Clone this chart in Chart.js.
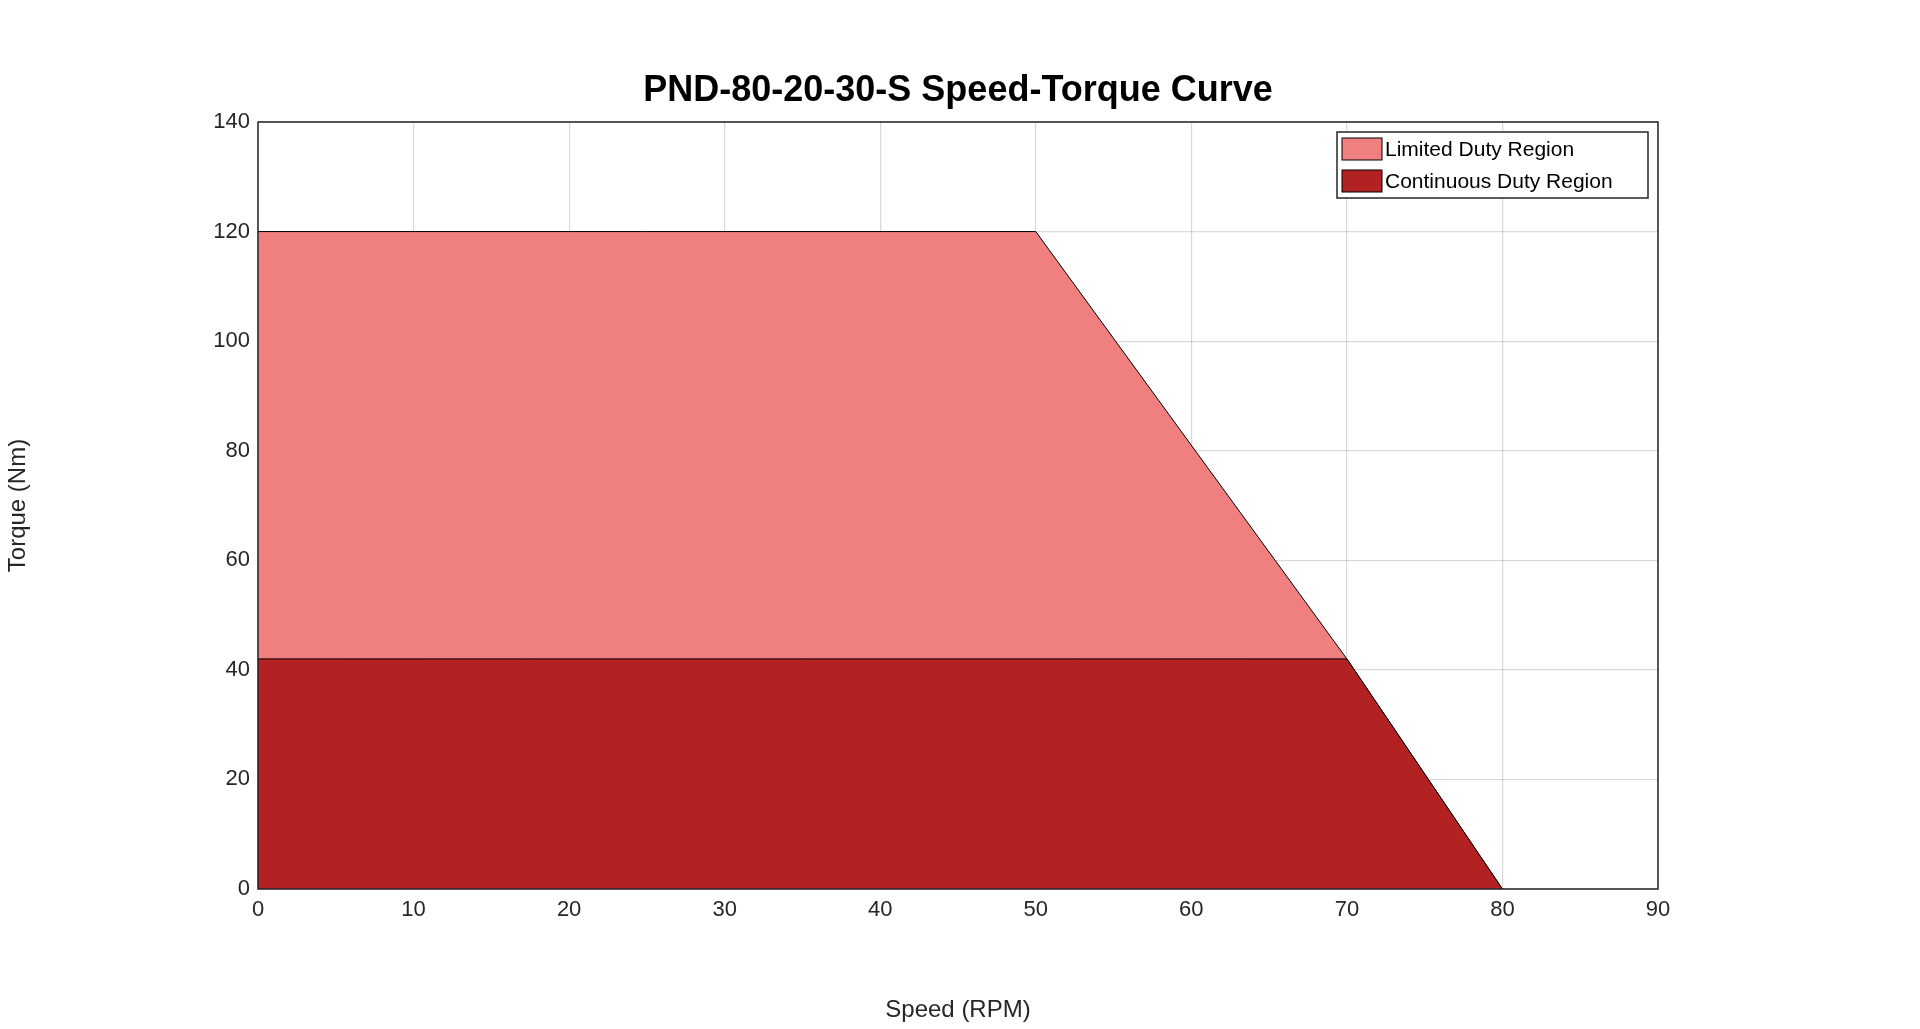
<!DOCTYPE html>
<html>
<head>
<meta charset="utf-8">
<script src="https://cdn.jsdelivr.net/npm/chart.js@4"></script>
<style>
  html, body { margin: 0; background: #fff; }
  #wrap { width: 1920px; height: 1029px; }
</style>
</head>
<body>
<div id="wrap"><canvas id="torque-chart"></canvas></div>
<script>
// chart data
const titleText = 'PND-80-20-30-S Speed-Torque Curve'
const limitedSpeed = [0, 50, 70, 80]
const limitedTorque = [120, 120, 42, 0]
const contSpeed = [0, 70, 80]
const contTorque = [42, 42, 0]
const labels = ['Limited Duty Region', 'Continuous Duty Region']
const colors = ['#f08080', '#b22222']

const toPoints = (xs, ys) => xs.map((x, i) => ({ x: x, y: ys[i] }))
const font = 'Arial, "Liberation Sans", sans-serif'

// frame, title and legend box drawn like matlab
const matlabDecor = {
  id: 'matlabDecor',
  afterDraw(chart) {
    const { ctx, chartArea: a } = chart
    ctx.save()
    ctx.strokeStyle = '#262626'
    ctx.lineWidth = 1.5
    ctx.strokeRect(a.left, a.top, a.right - a.left, a.bottom - a.top)

    ctx.fillStyle = '#000'
    ctx.font = 'bold 36px ' + font
    ctx.textAlign = 'center'
    ctx.textBaseline = 'middle'
    ctx.fillText(titleText, (a.left + a.right) / 2, 91)

    // legend
    const lx = 1337, ly = 132, lw = 311, lh = 66
    ctx.fillStyle = '#fff'
    ctx.fillRect(lx, ly, lw, lh)
    ctx.strokeStyle = '#262626'
    ctx.lineWidth = 1.5
    ctx.strokeRect(lx, ly, lw, lh)
    ctx.font = '21px ' + font
    ctx.textAlign = 'left'
    labels.forEach((lab, i) => {
      const y = ly + 6 + i * 32
      ctx.fillStyle = colors[i]
      ctx.fillRect(lx + 5, y, 40, 22)
      ctx.strokeStyle = '#000'
      ctx.lineWidth = 1
      ctx.strokeRect(lx + 5, y, 40, 22)
      ctx.fillStyle = '#000'
      ctx.fillText(lab, lx + 48, y + 12)
    })
    ctx.restore()
  }
}

const tickStyle = { color: '#262626', font: { size: 22, family: font } }
const gridStyle = { color: 'rgba(0,0,0,0.15)', lineWidth: 1.2, drawTicks: false }

new Chart(document.querySelector('#torque-chart'), {
  type: 'line',
  data: {
    datasets: [
      {
        label: labels[0],
        data: toPoints(limitedSpeed, limitedTorque),
        backgroundColor: colors[0],
        borderColor: '#000',
        borderWidth: 1,
        pointRadius: 0,
        fill: 'origin',
        order: 2
      },
      {
        label: labels[1],
        data: toPoints(contSpeed, contTorque),
        backgroundColor: colors[1],
        borderColor: '#000',
        borderWidth: 1,
        pointRadius: 0,
        fill: 'origin',
        order: 1
      }
    ]
  },
  options: {
    responsive: true,
    maintainAspectRatio: false,
    animation: false,
    layout: { padding: { left: 0, right: 262, top: 122, bottom: 0 } },
    plugins: { legend: { display: false }, tooltip: { enabled: false } },
    scales: {
      x: {
        type: 'linear',
        min: 0, max: 90,
        ticks: { ...tickStyle, stepSize: 10, padding: 8 },
        grid: gridStyle,
        border: { display: false },
        title: { display: true, text: 'Speed (RPM)', color: '#262626', font: { size: 24, family: font } },
        afterFit(s) { s.height = 140 }
      },
      y: {
        min: 0, max: 140,
        ticks: { ...tickStyle, stepSize: 20, padding: 8 },
        grid: gridStyle,
        border: { display: false },
        title: { display: true, text: 'Torque (Nm)', color: '#262626', font: { size: 24, family: font } },
        afterFit(s) { s.width = 258 }
      }
    }
  },
  plugins: [matlabDecor]
})
</script>
</body>
</html>
